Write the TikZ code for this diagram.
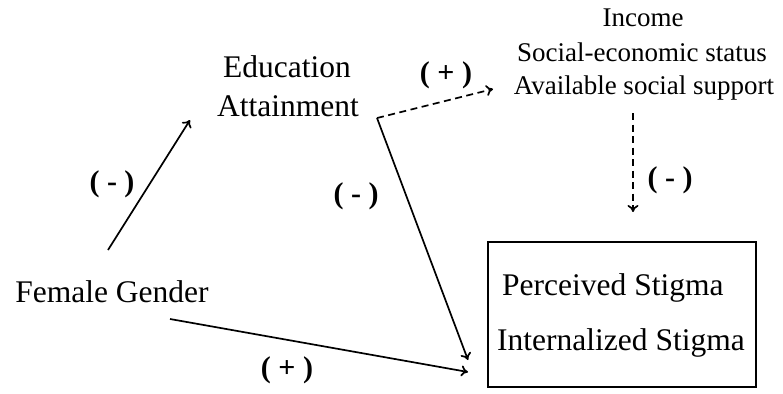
\documentclass[tikz,border=0pt]{standalone}
\usepackage{fontspec}
\setmainfont{Liberation Serif}
\usetikzlibrary{arrows.meta}
\begin{document}
\begin{tikzpicture}[x=1pt,y=-1pt,
  big/.style={font=\fontsize{31.5}{38}\selectfont, inner sep=0pt, anchor=base},
  small/.style={font=\fontsize{27}{34}\selectfont, inner sep=0pt, anchor=base},
  sign/.style={font=\fontsize{30}{36}\selectfont\bfseries, inner sep=0pt},
  conn/.style={line width=1.7pt, -{To[length=7pt,width=11pt]}},
  dconn/.style={conn, dash pattern=on 7pt off 4.5pt}]
\useasboundingbox (0,0) rectangle (783,393);

% nodes
\node[big] (edu1) at (287,78) {Education};
\node[big] (edu2) at (288,116) {Attainment};
\node[small] (inc) at (643,27) {Income};
\node[small] (ses) at (642,62) {Social-economic status};
\node[small] (sup) at (644,95) {Available social support};
\node[big] (fg) at (112,302) {Female Gender};
\node[draw, line width=1.6pt, minimum width=268pt, minimum height=145pt, inner sep=0pt] (box) at (622,314.5) {};
\node[big, anchor=base west] (ps) at (502,295) {Perceived Stigma};
\node[big, anchor=base west] (is) at (497,350) {Internalized Stigma};

% connector end points
\coordinate (fgUp) at (108,250);
\coordinate (eduIn) at (190,120);
\coordinate (eduOut) at (377,118);
\coordinate (supIn) at (493,89);
\coordinate (supOut) at (633,113);
\coordinate (supDown) at (633,212);
\coordinate (boxInA) at (468,360);
\coordinate (fgOut) at (170,319);
\coordinate (boxInB) at (468,372);

% connectors
\draw[conn] (fgUp) -- (eduIn);
\draw[dconn] (eduOut) -- (supIn);
\draw[conn] (eduOut) -- (boxInA);
\draw[conn] (fgOut) -- (boxInB);
\draw[dconn] (supOut) -- (supDown);

% labels
\node[sign] (l1) at (112,184) {( - )};
\node[sign] (l2) at (356,196) {( - )};
\node[sign] (l3) at (287,370) {( + )};
\node[sign] (l4) at (446,75) {( + )};
\node[sign] (l5) at (670,180) {( - )};
\end{tikzpicture}
\end{document}
